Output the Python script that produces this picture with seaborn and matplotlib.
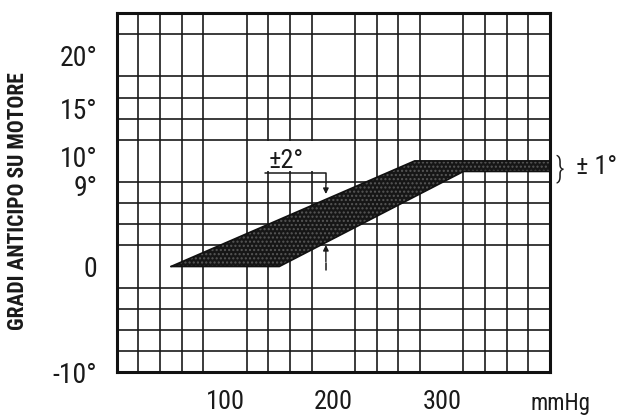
import numpy as np
import pandas as pd
import matplotlib
matplotlib.use("Agg")
import matplotlib.pyplot as plt
import matplotlib.transforms as mtransforms
from matplotlib.patches import Rectangle
from matplotlib.ticker import MultipleLocator, FixedLocator
import seaborn as sns

# Advance curve band (vacuum in mmHg vs. degrees of advance at the engine)
upper_pressure = [50, 275, 400]
upper_advance = [0, 10, 10]
lower_pressure = [50, 150, 320, 400]
lower_advance = [0, 0, 9, 9]

ytick_values = [-10, 0, 9, 10, 15, 20]
ytick_labels = ["-10°", "0", "9°", "10°", "15°", "20°"]
xtick_values = [100, 200, 300]
xtick_labels = ["100", "200", "300"]

sns.set_style("white")
font_list = ["Roboto Condensed", "Liberation Sans Narrow", "Roboto", "DejaVu Sans"]
plt.rcParams["font.family"] = font_list

fig = plt.figure(figsize=(6.28, 4.2), dpi=100)
ax = fig.add_axes([0.186, 0.114, 0.690, 0.855])

upper = pd.DataFrame({"p": upper_pressure, "a": upper_advance})
lower = pd.DataFrame({"p": lower_pressure, "a": lower_advance})

# Shaded tolerance band
poly_x = np.r_[upper["p"].to_numpy(), lower["p"].to_numpy()[::-1]]
poly_y = np.r_[upper["a"].to_numpy(), lower["a"].to_numpy()[::-1]]
ax.fill(poly_x, poly_y, facecolor="#161616", edgecolor="#575757",
        hatch="....", linewidth=0, zorder=3)
sns.lineplot(data=upper, x="p", y="a", color="#111111", lw=1.2, ax=ax,
             zorder=4, sort=False)
sns.lineplot(data=lower, x="p", y="a", color="#111111", lw=1.2, ax=ax,
             zorder=4, sort=False)
ax.set_xlabel("")

ax.set_xlim(0, 400)
ax.set_ylim(-10, 24)

# Graph-paper grid
ax.xaxis.set_minor_locator(MultipleLocator(20))
ax.yaxis.set_minor_locator(MultipleLocator(2))
ax.grid(which="minor", color="#1a1a1a", linewidth=1.2, zorder=1)
ax.grid(which="major", visible=False)
ax.tick_params(which="minor", length=0)
ax.set_axisbelow(True)

ax.xaxis.set_major_locator(FixedLocator(xtick_values))
ax.set_xticklabels(xtick_labels)
ax.yaxis.set_major_locator(FixedLocator(ytick_values))
ax.set_yticklabels(ytick_labels)
ax.tick_params(which="major", direction="out", length=12, width=1.2,
               color="#1a1a1a", labelsize=20, labelcolor="#1a1a1a", pad=2)
ax.tick_params(axis="x", pad=1, labelsize=19)

# 10° sits just above its tick, 9° just below
for lab in ax.get_yticklabels():
    if lab.get_text() == "10°":
        lab.set_transform(lab.get_transform() +
                          mtransforms.ScaledTranslation(0, 3.5 / 72, fig.dpi_scale_trans))
    elif lab.get_text() == "9°":
        lab.set_transform(lab.get_transform() +
                          mtransforms.ScaledTranslation(0, -10 / 72, fig.dpi_scale_trans))

for s in ax.spines.values():
    s.set_visible(True)
    s.set_color("#111111")
    s.set_linewidth(2.2)
    s.set_zorder(6)

ax.set_ylabel("GRADI ANTICIPO SU MOTORE", fontsize=15.5, fontweight="bold",
              color="#1a1a1a")
ax.yaxis.set_label_coords(-0.203, 0.476)
ax.text(1.025, -0.086, "mmHg", transform=ax.transAxes, ha="center", va="center",
        fontsize=16.5, color="#1a1a1a")

# ±2° tolerance callout
ax.add_patch(Rectangle((121, 9.0), 78, 2.9, facecolor="white",
                       edgecolor="none", zorder=2))
ax.text(156, 9.95, "±2°", ha="center", va="center", fontsize=19,
        color="#1a1a1a", zorder=7)
ax.plot([137, 193, 193], [8.9, 8.9, 7.8], color="#1a1a1a", lw=1.1, zorder=7)
ax.annotate("", xy=(193, 6.6), xytext=(193, 8.0),
            arrowprops=dict(arrowstyle="-|>", color="#1a1a1a", lw=1.0,
                            mutation_scale=8), zorder=7)
ax.annotate("", xy=(193, 2.3), xytext=(193, 0.2),
            arrowprops=dict(arrowstyle="-|>", color="#1a1a1a", lw=1.0,
                            mutation_scale=8), zorder=7)
ax.plot([193, 193], [0.3, -0.3], color="#1a1a1a", lw=1.1, zorder=7)

# ±1° note on the plateau
ax.text(1.012, 0.565, "}", transform=ax.transAxes, ha="left", va="center",
        fontsize=21, color="#1a1a1a", fontweight="light")
ax.text(1.06, 0.57, "± 1°", transform=ax.transAxes, ha="left", va="center",
        fontsize=19, color="#1a1a1a")

fig.savefig("out.png", dpi=100)
